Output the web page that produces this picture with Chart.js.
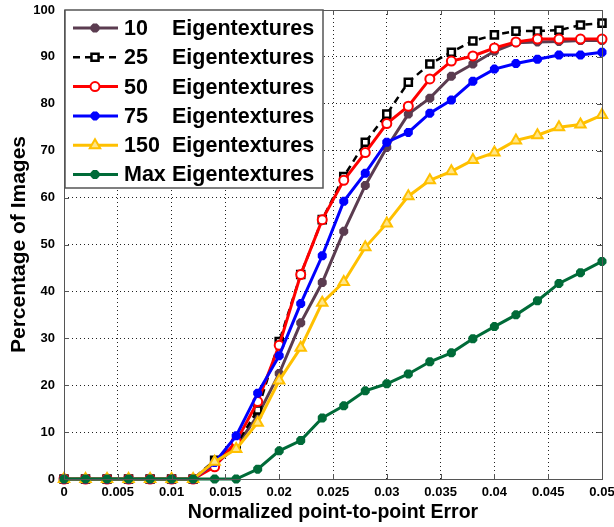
<!DOCTYPE html>
<html>
<head>
<meta charset="utf-8">
<script src="https://cdn.jsdelivr.net/npm/chart.js@4.4.0/dist/chart.umd.min.js"></script>
<style>
  html, body { margin: 0; padding: 0; background: #fff; }
</style>
</head>
<body>
<canvas id="chart" width="614" height="527"></canvas>
<script>
// Normalized point-to-point error curves (cumulative %)

const xValues = [0, 0.002, 0.004, 0.006, 0.008, 0.01, 0.012, 0.014, 0.016, 0.018, 0.02, 0.022, 0.024,
    0.026, 0.028, 0.03, 0.032, 0.034, 0.036, 0.038, 0.04, 0.042, 0.044, 0.046, 0.048, 0.05];

const eig10 = [0, 0, 0, 0, 0, 0, 0, 3, 7, 13.5, 22.5, 33.3, 41.9, 52.8, 62.6, 70.7, 77.8, 81.2,
    85.9, 88.5, 91.2, 93, 93.2, 93.3, 93.5, 93.5];
const eig25 = [0, 0, 0, 0, 0, 0, 0, 4, 7.3, 14.7, 29.3, 43.6, 55.3, 64.5, 71.8, 77.8, 84.6, 88.5,
    91, 93.4, 94.7, 95.5, 95.5, 95.7, 96.8, 97.2];
const eig50 = [0, 0, 0, 0, 0, 0, 0, 2.6, 8, 16.5, 28.5, 43.6, 55.3, 63.7, 69.6, 75.8, 79.5, 85.3,
    89.1, 90.2, 91.9, 93.2, 93.8, 93.8, 93.8, 93.8];
const eig75 = [0, 0, 0, 0, 0, 0, 0, 3.5, 9.2, 18.3, 26.3, 37.4, 47.6, 59.2, 65.2, 71.8, 73.9, 78,
    80.8, 84.8, 87.4, 88.6, 89.5, 90.4, 90.4, 91];
const eig150 = [0, 0, 0, 0, 0, 0, 0, 3.7, 6.4, 12, 21, 28, 37.6, 42, 49.4, 54.5, 60.3, 63.7,
    65.6, 68, 69.6, 72.2, 73.3, 75, 75.6, 77.6];
const eigMax = [0, 0, 0, 0, 0, 0, 0, 0, 0, 2.1, 6, 8.2, 13, 15.6, 18.8, 20.3, 22.4, 25,
    26.9, 29.9, 32.5, 35, 38, 41.7, 44, 46.4];

const seriesLabels = ['10 Eigentextures', '25 Eigentextures', '50 Eigentextures',
    '75 Eigentextures', '150 Eigentextures', 'Max Eigentextures'];

const xTicks = [0, 0.005, 0.01, 0.015, 0.02, 0.025, 0.03, 0.035, 0.04, 0.045, 0.05];
const yTicks = [0, 10, 20, 30, 40, 50, 60, 70, 80, 90, 100];

const FONT = "'Liberation Sans', Arial, sans-serif";

function toPoints(values) {
    return values.map((y, i) => ({ x: xValues[i], y: y }));
}

function makeSeries(label, values, color, style, order) {
    return {
        label: label,
        data: toPoints(values),
        borderColor: color,
        backgroundColor: color,
        pointBorderColor: color,
        pointBackgroundColor: color,
        borderWidth: 3,
        pointStyle: style,
        pointRadius: 4.5,
        pointBorderWidth: 3.5,
        tension: 0,
        clip: false,
        order: order
    };
}

const datasets = [
    makeSeries(seriesLabels[0], eig10, '#5b3c50', 'star', 6),
    Object.assign(makeSeries(seriesLabels[1], eig25, '#000000', 'rect', 5), {
        borderDash: [7, 5], borderWidth: 2.5, pointBackgroundColor: '#ffffff',
        pointRadius: 5, pointBorderWidth: 2.5
    }),
    Object.assign(makeSeries(seriesLabels[2], eig50, '#ff0000', 'circle', 4), {
        pointBackgroundColor: '#ffffff', pointRadius: 4.5, pointBorderWidth: 2
    }),
    makeSeries(seriesLabels[3], eig75, '#0000ff', 'star', 3),
    Object.assign(makeSeries(seriesLabels[4], eig150, '#ffc000', 'triangle', 2), {
        pointBackgroundColor: '#ffe68a', pointRadius: 6, pointBorderWidth: 2
    }),
    makeSeries(seriesLabels[5], eigMax, '#006b38', 'star', 1)
];

// MATLAB style frame with inward tick marks
const framePlugin = {
    id: 'frame',
    afterDatasetsDraw(chart) {
        const { ctx, chartArea: a, scales } = chart;
        ctx.save();
        ctx.strokeStyle = '#555';
        ctx.lineWidth = 1;
        ctx.beginPath();
        xTicks.forEach(v => {
            const px = Math.round(scales.x.getPixelForValue(v)) + 0.5;
            ctx.moveTo(px, a.bottom); ctx.lineTo(px, a.bottom - 5);
            ctx.moveTo(px, a.top); ctx.lineTo(px, a.top + 5);
        });
        yTicks.forEach(v => {
            const py = Math.round(scales.y.getPixelForValue(v)) + 0.5;
            ctx.moveTo(a.left, py); ctx.lineTo(a.left + 5, py);
            ctx.moveTo(a.right, py); ctx.lineTo(a.right - 5, py);
        });
        ctx.stroke();
        ctx.strokeRect(Math.round(a.left) + 0.5, Math.round(a.top) + 0.5,
            Math.round(a.right - a.left), Math.round(a.bottom - a.top));
        ctx.restore();
    }
};

// Boxed legend in the upper-left corner of the plot
const legendPlugin = {
    id: 'boxLegend',
    afterDraw(chart) {
        const { ctx, chartArea: a } = chart;
        const left = a.left + 1, top = a.top;
        const rowH = 29.3;
        ctx.save();
        ctx.fillStyle = '#ffffff';
        ctx.fillRect(left, top, 258, 178);
        ctx.strokeStyle = '#555';
        ctx.lineWidth = 1.5;
        ctx.strokeRect(left, top, 258, 178);

        chart.data.datasets.forEach((ds, i) => {
            const cy = top + 18 + i * rowH;
            ctx.strokeStyle = ds.borderColor;
            ctx.lineWidth = ds.borderWidth;
            ctx.setLineDash(ds.borderDash || []);
            ctx.beginPath();
            ctx.moveTo(left + 8, cy);
            ctx.lineTo(left + 53, cy);
            ctx.stroke();
            ctx.setLineDash([]);

            ctx.fillStyle = ds.pointBackgroundColor;
            ctx.strokeStyle = ds.pointBorderColor;
            ctx.lineWidth = ds.pointBorderWidth;
            Chart.helpers.drawPoint(ctx, {
                pointStyle: ds.pointStyle, radius: ds.pointRadius, borderWidth: ds.pointBorderWidth, rotation: 0
            }, left + 30, cy);

            const parts = ds.label.split(' ');
            ctx.fillStyle = '#000';
            ctx.font = 'bold 21.5px ' + FONT;
            ctx.textBaseline = 'middle';
            ctx.textAlign = 'left';
            ctx.fillText(parts[0], left + 59, cy + 1);
            ctx.fillText(parts[1], left + 107, cy + 1);
        });
        ctx.restore();
    }
};

Chart.defaults.font.family = FONT;
Chart.defaults.color = '#000';

new Chart(document.getElementById('chart'), {
    type: 'line',
    data: { datasets: datasets },
    plugins: [framePlugin, legendPlugin],
    options: {
        responsive: false,
        animation: false,
        layout: { padding: { top: 10, right: 12, left: 0, bottom: 0 } },
        plugins: {
            legend: { display: false },
            tooltip: { enabled: false }
        },
        scales: {
            x: {
                type: 'linear',
                min: 0,
                max: 0.05,
                afterBuildTicks: s => { s.ticks = xTicks.map(v => ({ value: v })); },
                afterFit: s => { s.height = 48; s.paddingLeft = 0; s.paddingRight = 0; },
                ticks: {
                    autoSkip: false,
                    maxRotation: 0,
                    padding: 6,
                    font: { size: 13, weight: 'bold' },
                    callback: v => String(Number(v.toFixed(3)))
                },
                grid: { color: '#222', lineWidth: 1, drawTicks: false },
                border: { display: false, dash: [1, 3] },
                title: {
                    display: true,
                    text: 'Normalized point-to-point Error',
                    font: { size: 19.5, weight: 'bold' },
                    padding: { top: 0, bottom: 3 }
                }
            },
            y: {
                min: 0,
                max: 100,
                afterBuildTicks: s => { s.ticks = yTicks.map(v => ({ value: v })); },
                afterFit: s => { s.width = 64; s.paddingTop = 0; s.paddingBottom = 0; },
                ticks: {
                    padding: 9,
                    font: { size: 13, weight: 'bold' }
                },
                grid: { color: '#222', lineWidth: 1, drawTicks: false },
                border: { display: false, dash: [1, 3] },
                title: {
                    display: true,
                    text: 'Percentage of Images',
                    font: { size: 21, weight: 'bold' },
                    padding: { top: 7, bottom: 0 }
                }
            }
        }
    }
});
</script>
</body>
</html>
